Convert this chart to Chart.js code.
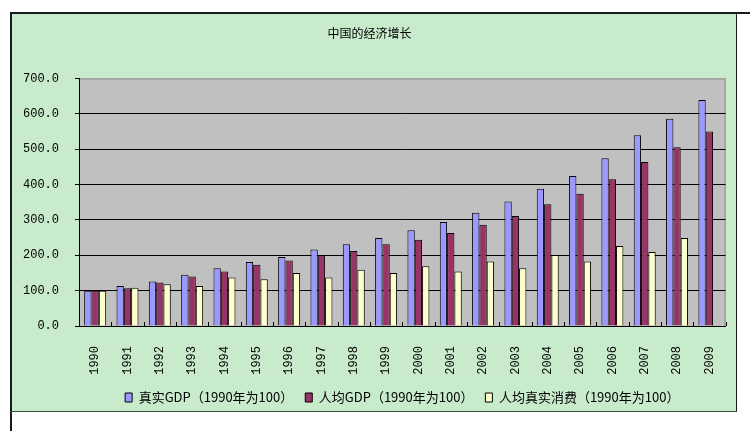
<!DOCTYPE html>
<html>
<head>
<meta charset="utf-8">
<script src="https://cdn.jsdelivr.net/npm/chart.js@4"></script>
<style>
  body { margin: 0; background: #fff; width: 750px; height: 431px; overflow: hidden; position: relative; }
  #panel { position: absolute; left: 12px; top: 14px; width: 724px; height: 397px; background: #c8ebcc; }
  #wrap { position: absolute; left: 12px; top: 14px; width: 724px; height: 400px; }
  .ln { position: absolute; background: #1a1a1a; }
</style>
</head>
<body>
<div id="panel"></div>
<div id="wrap"><canvas id="grafico" width="724" height="400"></canvas></div>
<div class="ln" style="left:10px;top:12px;width:740px;height:2px;"></div>
<div class="ln" style="left:10px;top:12px;width:2px;height:419px;"></div>
<div class="ln" style="left:736px;top:12px;width:1px;height:400px;"></div>
<div class="ln" style="left:10px;top:411px;width:727px;height:1px;background:#2f4f3f;"></div>
<script>
// datos (1990 = 100)
const anios = ['1990', '1991', '1992', '1993', '1994', '1995', '1996', '1997', '1998', '1999',
    '2000', '2001', '2002', '2003', '2004', '2005', '2006', '2007', '2008', '2009'];
const gdpReal = [100, 113, 126, 145, 163, 181, 195, 216, 231, 249,
    271, 294, 320, 352, 388, 424, 474, 539, 586, 639];
const gdpPerCapita = [100, 107, 123, 140, 154, 173, 185, 199, 212, 231,
    244, 263, 286, 311, 344, 374, 415, 464, 505, 550];
const consumoReal = [100, 108, 118, 113, 137, 132, 150, 137, 159, 150,
    169, 154, 182, 163, 201, 182, 226, 209, 249, null];
const ticksY = [0, 100, 200, 300, 400, 500, 600, 700];

const fuenteMono = "'Liberation Mono', 'DejaVu Sans Mono', monospace";
const fuenteCJK = "SimSun, 'Noto Sans CJK SC', sans-serif";

// fondo gris del área de trazado
const fondoArea = {
    id: 'fondoArea',
    beforeDraw(chart) {
        const a = chart.chartArea;
        const ctx = chart.ctx;
        ctx.save();
        ctx.fillStyle = '#c0c0c0';
        ctx.fillRect(a.left, a.top, a.right - a.left, a.bottom - a.top);
        ctx.strokeStyle = '#8a8a8a';
        ctx.lineWidth = 1;
        ctx.strokeRect(a.left + 0.5, a.top + 0.5, a.right - a.left - 1, a.bottom - a.top);
        ctx.restore();
    }
};

// marcas cortas hacia dentro entre categorías (estilo Excel)
const marcasX = {
    id: 'marcasX',
    afterDatasetsDraw(chart) {
        const x = chart.scales.x;
        const ctx = chart.ctx;
        const n = x.ticks.length;
        ctx.save();
        ctx.strokeStyle = '#000';
        ctx.lineWidth = 1;
        ctx.beginPath();
        for (let i = 0; i <= n; i++) {
            const px = Math.round(x.getPixelForValue(i - 0.5)) + 0.5;
            ctx.moveTo(px, x.top);
            ctx.lineTo(px, x.top - 4);
        }
        ctx.stroke();
        ctx.restore();
    }
};

document.addEventListener('DOMContentLoaded', function () {
    const ctx = document.getElementById('grafico');
    new Chart(ctx, {
        type: 'bar',
        data: {
            labels: anios,
            datasets: [{
                label: '真实GDP（1990年为100）',
                data: gdpReal,
                backgroundColor: '#9999ff',
                borderColor: '#000',
                borderWidth: 1
            }, {
                label: '人均GDP（1990年为100）',
                data: gdpPerCapita,
                backgroundColor: '#993366',
                borderColor: '#000',
                borderWidth: 1
            }, {
                label: '人均真实消费（1990年为100）',
                data: consumoReal,
                backgroundColor: '#ffffcc',
                borderColor: '#000',
                borderWidth: 1
            }]
        },
        plugins: [fondoArea, marcasX],
        options: {
            responsive: false,
            animation: false,
            layout: { padding: { left: 0, right: 9, top: 0, bottom: 0 } },
            datasets: {
                bar: { categoryPercentage: 0.68, barPercentage: 1.0 }
            },
            plugins: {
                title: {
                    display: true,
                    text: '中国的经济增长',
                    color: '#000',
                    font: { family: fuenteCJK, size: 12, weight: 'normal' },
                    padding: { top: 12, bottom: 38 }
                },
                legend: {
                    position: 'bottom',
                    fullSize: false,
                    labels: {
                        color: '#000',
                        boxWidth: 7,
                        boxHeight: 9,
                        padding: 12,
                        font: { family: fuenteCJK, size: 13 }
                    }
                },
                tooltip: { enabled: false }
            },
            scales: {
                x: {
                    grid: { display: false },
                    border: { color: '#000', width: 1 },
                    ticks: {
                        color: '#000',
                        minRotation: 90,
                        maxRotation: 90,
                        padding: 12,
                        font: { family: fuenteMono, size: 12 }
                    },
                    afterFit(scale) { scale.height = 53; }
                },
                y: {
                    min: 0,
                    max: 700,
                    afterBuildTicks(scale) {
                        scale.ticks = ticksY.map(v => ({ value: v }));
                    },
                    grid: {
                        color: (c) => (c.tick && c.tick.value === 700) ? 'rgba(0,0,0,0)' : '#000',
                        tickLength: 4,
                        tickColor: '#000'
                    },
                    border: { color: '#000', width: 1 },
                    ticks: {
                        color: '#000',
                        padding: 16,
                        font: { family: fuenteMono, size: 12 },
                        callback: (v) => Number(v).toFixed(1)
                    },
                    afterFit(scale) { scale.width = 67; }
                }
            }
        }
    });
});
</script>
</body>
</html>
